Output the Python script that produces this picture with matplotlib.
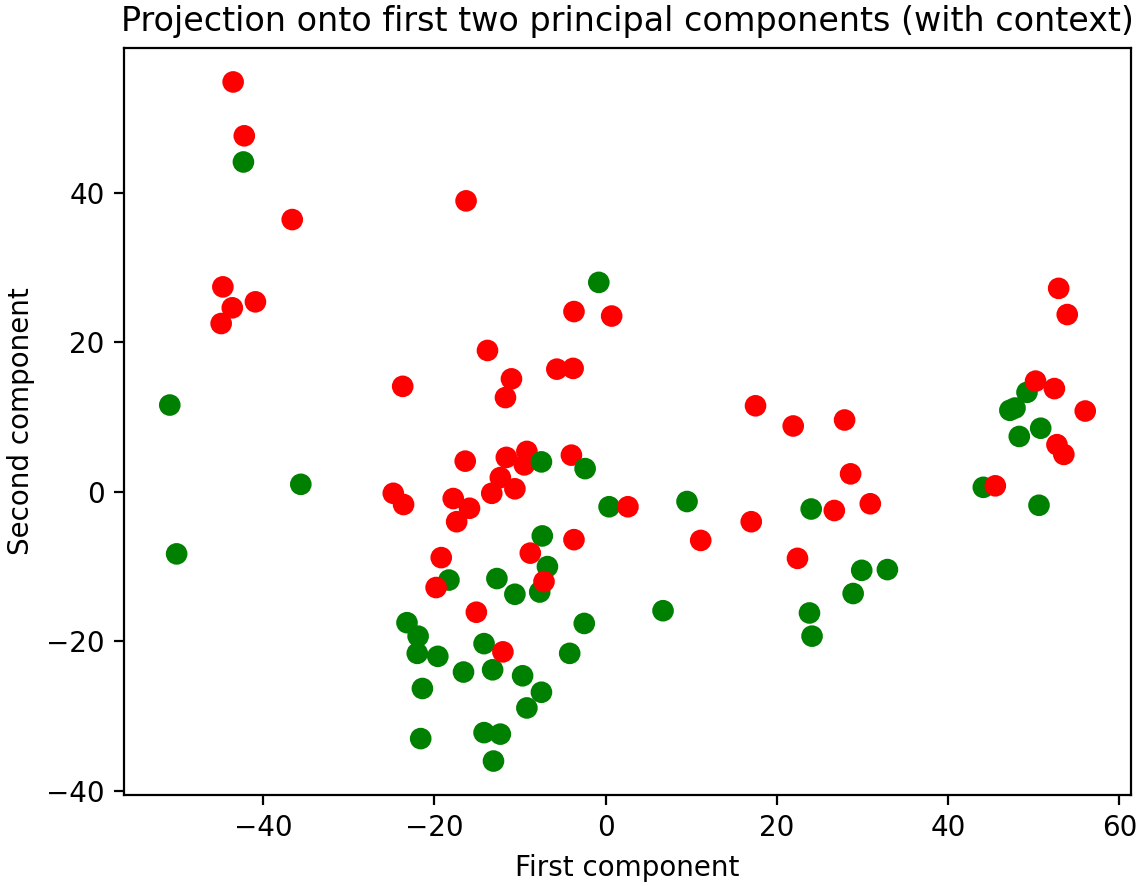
import matplotlib
matplotlib.use("Agg")
import matplotlib.pyplot as plt

# Projected samples (first, second principal component) and their context label.
# Points are listed in drawing order.
first_component = [
    -42.3, -50.9, -35.6, -50.1, -18.3, -23.2, -0.8, 0.4, -7.4, -6.8,
    -12.7, -10.6, -7.7, -2.5, -21.9, -22.0, -19.6, -14.2, -4.2, -16.6,
    -13.2, -9.7, -21.4, -7.5, -9.2, -21.6, -14.2, -12.3, -13.1, 9.5,
    24.0, 29.9, 32.9, 28.9, 6.7, 23.8, 24.1, 49.2, 47.2, 47.8,
    50.8, 48.3, 44.1, 50.6,
    -43.5, -42.2, -36.6, -44.7, -40.9, -43.6, -44.9, -16.3, -23.7, -24.8,
    -23.6, -19.2, -19.8, -3.7, 0.7, -13.8, -5.7, -3.8, -11.0, -11.7,
    -16.4, -11.6, -9.2, -9.5, -4.0, -12.3, -13.3, -10.6, -17.8, -15.9,
    2.6, -17.4, -3.7, -8.8, -7.2, -15.1, -12.0, 17.5, 21.9, 27.9,
    28.6, 17.0, 11.1, 26.7, 30.9, 22.4, 52.9, 53.9, 50.2, 52.4,
    56.0, 52.7, 53.5, 45.5,
    -7.5, -2.4,
]
second_component = [
    44.1, 11.6, 1.0, -8.3, -11.8, -17.5, 28.0, -2.0, -5.9, -10.0,
    -11.6, -13.7, -13.4, -17.6, -19.3, -21.6, -22.0, -20.3, -21.6, -24.1,
    -23.8, -24.6, -26.3, -26.8, -28.9, -33.0, -32.2, -32.4, -36.0, -1.3,
    -2.3, -10.5, -10.4, -13.6, -15.9, -16.2, -19.3, 13.3, 10.9, 11.2,
    8.5, 7.4, 0.6, -1.8,
    54.8, 47.6, 36.4, 27.4, 25.4, 24.6, 22.5, 38.9, 14.1, -0.2,
    -1.7, -8.8, -12.8, 24.1, 23.5, 18.9, 16.4, 16.5, 15.1, 12.6,
    4.1, 4.6, 5.4, 3.6, 4.9, 1.9, -0.2, 0.4, -0.9, -2.2,
    -2.0, -4.0, -6.4, -8.2, -12.0, -16.1, -21.4, 11.5, 8.8, 9.6,
    2.4, -4.0, -6.5, -2.5, -1.6, -8.9, 27.2, 23.7, 14.8, 13.8,
    10.8, 6.3, 5.0, 0.8,
    4.0, 3.1,
]
context = (["without"] * 44) + (["with"] * 54) + (["without"] * 2)

palette = {"with": "red", "without": "green"}
colors = [palette[c] for c in context]

fig = plt.figure(figsize=(1139 / 200, 886 / 200), dpi=200)
ax = fig.add_axes([124 / 1139, 91 / 886, 1007 / 1139, 747 / 886])

ax.scatter(first_component, second_component, c=colors, s=46)

ax.set_title("Projection onto first two principal components (with context)")
ax.set_xlabel("First component")
ax.set_ylabel("Second component")

fig.savefig("out.png", dpi=200)
